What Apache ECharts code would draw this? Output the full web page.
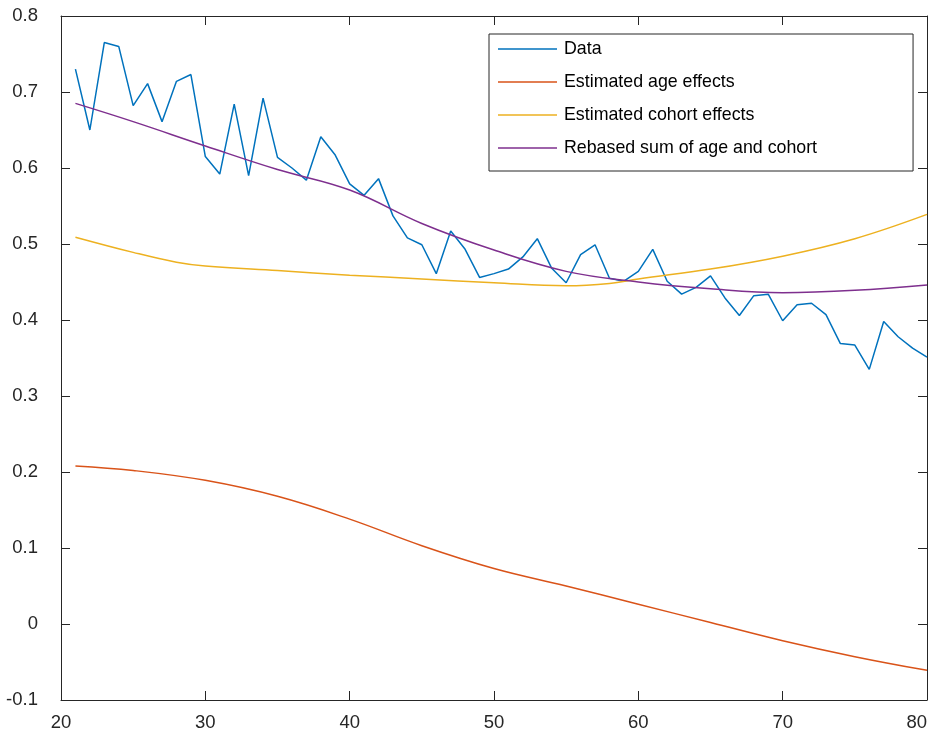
<!DOCTYPE html>
<html>
<head>
<meta charset="utf-8">
<script src="https://cdn.jsdelivr.net/npm/echarts@6/dist/echarts.min.js"></script>
<style>
  html, body { margin: 0; padding: 0; background: #fff; overflow: hidden; }
  #chart { width: 935px; height: 736px; }
</style>
</head>
<body>
<div id="chart"></div>
<script>
// ages of the observed data
var ages = [21, 22, 23, 24, 25, 26, 27, 28, 29, 30,
  31, 32, 33, 34, 35, 36, 37, 38, 39, 40,
  41, 42, 43, 44, 45, 46, 47, 48, 49, 50,
  51, 52, 53, 54, 55, 56, 57, 58, 59, 60,
  61, 62, 63, 64, 65, 66, 67, 68, 69, 70,
  71, 72, 73, 74, 75, 76, 77, 78, 79, 80];
var dataValues = [0.730, 0.650, 0.765, 0.760, 0.682, 0.711, 0.661, 0.714, 0.723, 0.615,
  0.592, 0.684, 0.590, 0.692, 0.614, 0.600, 0.584, 0.641, 0.617, 0.579,
  0.564, 0.586, 0.537, 0.508, 0.499, 0.461, 0.517, 0.493, 0.456, 0.461,
  0.467, 0.483, 0.507, 0.468, 0.449, 0.486, 0.499, 0.455, 0.451, 0.464,
  0.493, 0.451, 0.434, 0.443, 0.458, 0.429, 0.406, 0.432, 0.434, 0.399,
  0.420, 0.422, 0.407, 0.369, 0.367, 0.335, 0.398, 0.378, 0.363, 0.351];

// smooth fitted curves, read at these ages
var curveAges = [21, 25, 30, 35, 40, 45, 50, 55, 60, 65, 70, 75, 80];
var ageEffects = [0.208, 0.202, 0.189, 0.168, 0.138, 0.103, 0.073, 0.050, 0.026, 0.002, -0.022, -0.043, -0.061];
var cohortAges = [21, 25, 28, 30, 35, 40, 45, 50, 55, 58, 60, 65, 70, 75, 80];
var cohortEffects = [0.509, 0.489, 0.476, 0.471, 0.465, 0.459, 0.454, 0.449, 0.445, 0.448, 0.454, 0.467, 0.484, 0.507, 0.539];
var rebasedSum = [0.685, 0.661, 0.629, 0.598, 0.571, 0.527, 0.492, 0.464, 0.450, 0.441, 0.436, 0.439, 0.446];

var seriesNames = ["Data", "Estimated age effects", "Estimated cohort effects", "Rebased sum of age and cohort"];
var colors = ["#0072BD", "#D95319", "#EDB120", "#7E2F8E"];

function pairs(xs, ys) {
  return xs.map(function (x, i) { return [x, ys[i]]; });
}

var axisColor = "#262626";
var fontFamily = "Liberation Sans, Arial, sans-serif";
var labelFont = { color: axisColor, fontSize: 18.5, fontFamily: fontFamily };

// axis with inward ticks, used for all four sides of the box
function frameAxis(extra) {
  return Object.assign({
    type: "value",
    axisLine: { show: true, onZero: false, lineStyle: { color: axisColor, width: 1 } },
    axisTick: { show: true, inside: true, length: 9, lineStyle: { color: axisColor } },
    splitLine: { show: false }
  }, extra);
}

var chart = echarts.init(document.getElementById("chart"));
chart.setOption({
  animation: false,
  color: colors,
  grid: { left: 61, right: 8, top: 16, bottom: 36, containLabel: false, outerBoundsMode: "none" },
  legend: {
    data: seriesNames,
    orient: "vertical",
    left: 489,
    top: 34,
    icon: "rect",
    itemWidth: 59,
    itemHeight: 1.5,
    itemGap: 15,
    padding: [6, 96, 14, 9],
    borderColor: axisColor,
    borderWidth: 1,
    backgroundColor: "#fff",
    textStyle: { color: "#000", fontSize: 17.8, lineHeight: 18, fontFamily: fontFamily, padding: [0, 0, 0, 2] }
  },
  xAxis: [
    frameAxis({ min: 20, max: 80, interval: 10, axisLabel: Object.assign({ margin: 13, alignMaxLabel: "right" }, labelFont) }),
    frameAxis({ min: 20, max: 80, interval: 10, position: "top", axisLabel: { show: false } })
  ],
  yAxis: [
    frameAxis({ min: -0.1, max: 0.8, interval: 0.1, axisLabel: Object.assign({ margin: 23 }, labelFont) }),
    frameAxis({ min: -0.1, max: 0.8, interval: 0.1, position: "right", axisLabel: { show: false } })
  ],
  series: [
    {
      name: seriesNames[0], type: "line", showSymbol: false, symbol: "none",
      lineStyle: { width: 1.5 }, data: pairs(ages, dataValues), z: 3
    },
    {
      name: seriesNames[1], type: "line", showSymbol: false, symbol: "none",
      smooth: 0.4,
      lineStyle: { width: 1.5 }, data: pairs(curveAges, ageEffects)
    },
    {
      name: seriesNames[2], type: "line", showSymbol: false, symbol: "none",
      smooth: 0.4,
      lineStyle: { width: 1.5 }, data: pairs(cohortAges, cohortEffects)
    },
    {
      name: seriesNames[3], type: "line", showSymbol: false, symbol: "none",
      smooth: 0.4,
      lineStyle: { width: 1.5 }, data: pairs(curveAges, rebasedSum)
    }
  ]
});
</script>
</body>
</html>
